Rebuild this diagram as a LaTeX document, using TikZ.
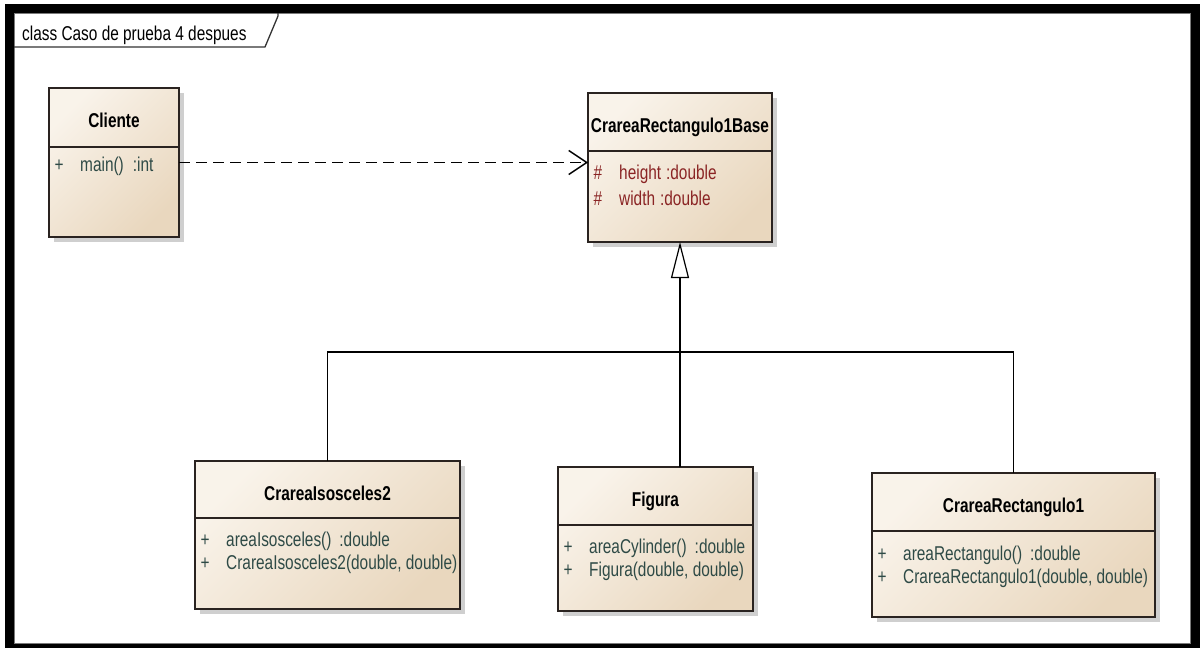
\documentclass[tikz,border=0pt]{standalone}
\usepackage{fontspec}
\setmainfont{Liberation Sans}[FakeStretch=0.77]
\usetikzlibrary{arrows.meta,calc}

\definecolor{boxlight}{HTML}{F9F3EA}
\definecolor{boxdark}{HTML}{E9D7BE}
\definecolor{boxline}{HTML}{2A2320}
\definecolor{opcol}{HTML}{2E4A46}
\definecolor{attrcol}{HTML}{8A2424}
\definecolor{shadowcol}{HTML}{CFCFCF}
\definecolor{framegray}{HTML}{7A7A7A}

\tikzset{
  classbox/.style={draw=boxline, line width=1.4pt, left color=boxlight,
    right color=boxdark, shading angle=45, inner sep=0pt, outer sep=0pt,
    anchor=north west},
  shadowbox/.style={fill=shadowcol, draw=none, inner sep=0pt, outer sep=0pt,
    anchor=north west},
  divider/.style={draw=boxline, line width=1.4pt},
  classname/.style={font=\bfseries\fontsize{20}{22}\selectfont, inner sep=0pt,
    anchor=base},
  member/.style={font=\fontsize{20}{22}\selectfont, inner sep=0pt},
  framelabel/.style={font=\fontsize{20}{22}\selectfont, inner sep=0pt,
    anchor=base west},
  dependency/.style={draw=black, line width=1.4pt, dash pattern=on 11pt off 6pt,
    -{Straight Barb[length=18pt, width=24pt, line width=1.4pt]}},
  generalization/.style={draw=black, line width=1.2pt},
  gentip/.style={-{Triangle[length=36pt, width=18pt, fill=white, line width=1.2pt]}}
}

% class box: name, left, top, width, height, header height, title
\newcommand\umlclass[7]{%
  \node[shadowbox, minimum width=#4pt, minimum height=#5pt] (#1-shadow)
    at (#2+5,#3+5) {};
  \node[classbox, minimum width=#4pt, minimum height=#5pt] (#1) at (#2,#3) {};
  \draw[divider] ($(#1.north west)+(0,#6)$) -- ($(#1.north east)+(0,#6)$);
  \node[classname] (#1-title) at ($(#1.north)+(0,39)$) {#7};
}
% member line: name, box, baseline offset, marker, text, colour
\newcommand\umlmember[6]{%
  \node[member, anchor=base, text=#6] (#1-vis) at ($(#2.north west)+(10,#3)$) {#4};
  \node[member, anchor=base west, text=#6] (#1) at ($(#2.north west)+(31,#3)$) {#5};
}

\begin{document}
\begin{tikzpicture}[x=1pt, y=-1pt]
  \useasboundingbox (0,0) rectangle (1200,648);
  \fill[white] (0,0) rectangle (1200,648);

  % diagram frame
  \fill[black] (5,4) rectangle (1200,648);
  \fill[white] (14,13) rectangle (1191,644);
  \draw[framegray, line width=1pt] (14.5,13.5) rectangle (1190.5,643.5);
  \draw[black!80, line width=1.3pt] (14,47) -- (265,47) -- (278,16) -- (278,13);
  \node[framelabel] (framename) at (22,40) {class Caso de prueba 4 despues};

  % classes
  \umlclass{cliente}{49}{88}{130}{149}{59}{Cliente}
  \umlmember{cliente-op1}{cliente}{83}{+}{main()\hspace{9pt}:int}{opcol}

  \umlclass{base}{588}{93}{184}{149}{58}{CrareaRectangulo1Base}
  \umlmember{base-at1}{base}{86}{\#}{height\hspace{5pt}:double}{attrcol}
  \umlmember{base-at2}{base}{112}{\#}{width\hspace{5pt}:double}{attrcol}

  \umlclass{isos}{195}{461}{265}{148}{57}{CrareaIsosceles2}
  \umlmember{isos-op1}{isos}{85}{+}{areaIsosceles()\hspace{8pt}:double}{opcol}
  \umlmember{isos-op2}{isos}{108}{+}{CrareaIsosceles2(double, double)}{opcol}

  \umlclass{fig}{558}{467}{195}{144}{58}{Figura}
  \umlmember{fig-op1}{fig}{86}{+}{areaCylinder()\hspace{8pt}:double}{opcol}
  \umlmember{fig-op2}{fig}{109}{+}{Figura(double, double)}{opcol}

  \umlclass{rect}{872}{473}{283}{144}{58}{CrareaRectangulo1}
  \umlmember{rect-op1}{rect}{87}{+}{areaRectangulo()\hspace{8pt}:double}{opcol}
  \umlmember{rect-op2}{rect}{110}{+}{CrareaRectangulo1(double, double)}{opcol}

  % dependency
  \draw[dependency] (cliente.east) -- (cliente.east -| base.west);

  % generalization tree
  \coordinate (join) at ($(base.south)+(0,110)$);
  \draw[generalization] (isos.north) |- (join) -| (rect.north);
  \draw[generalization] (fig.north -| base.south) -- (join);
  \draw[generalization, gentip] (join) -- (base.south);
\end{tikzpicture}
\end{document}
